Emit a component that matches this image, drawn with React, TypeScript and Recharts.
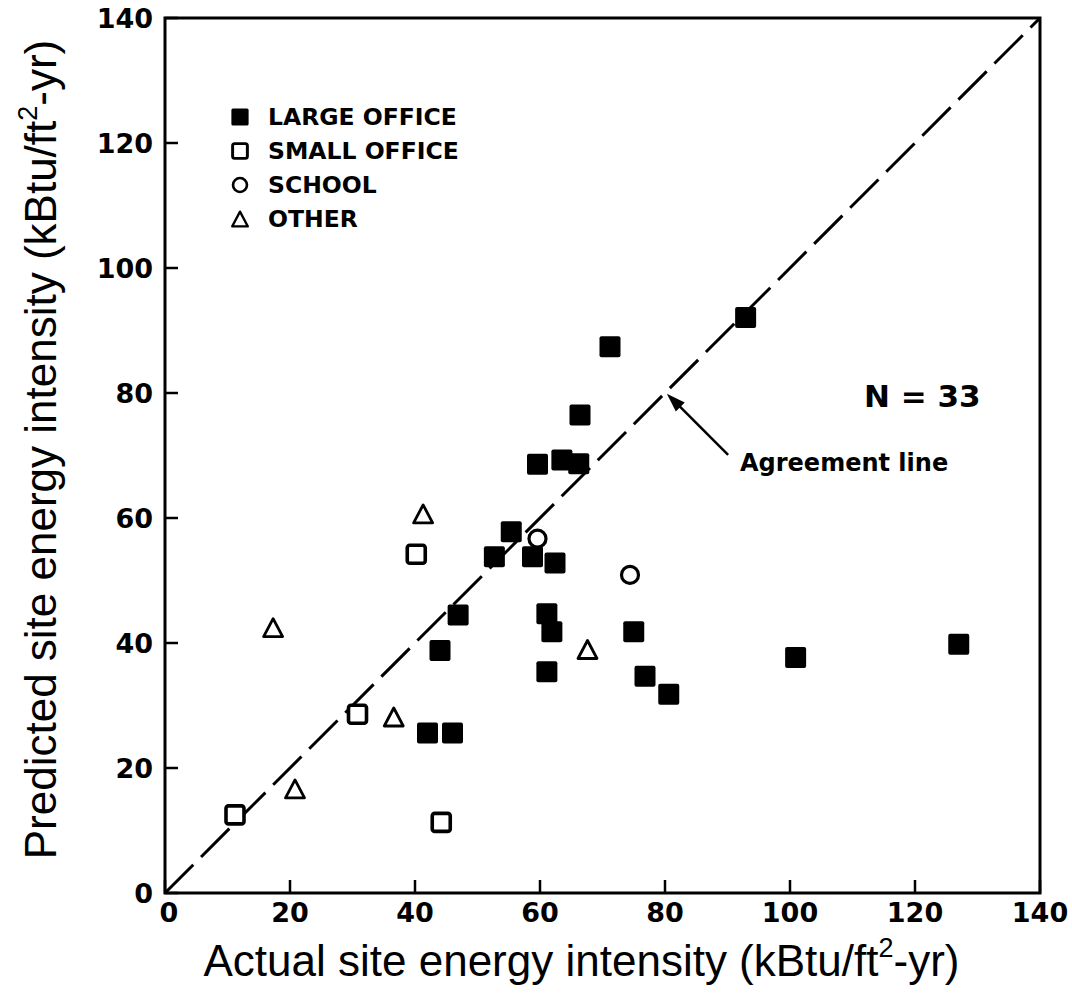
import React from 'react'
import {
  ScatterChart,
  Scatter,
  XAxis,
  YAxis,
  ReferenceLine,
  ReferenceArea,
  Legend,
  Label,
} from 'recharts'

// Actual vs predicted site energy intensity, kBtu/ft2-yr
const largeOffice = [
  { x: 92.9, y: 92.1 },
  { x: 71.2, y: 87.4 },
  { x: 66.4, y: 76.5 },
  { x: 59.6, y: 68.6 },
  { x: 63.5, y: 69.3 },
  { x: 66.2, y: 68.7 },
  { x: 55.4, y: 57.8 },
  { x: 52.7, y: 53.8 },
  { x: 58.8, y: 53.8 },
  { x: 62.4, y: 52.8 },
  { x: 46.9, y: 44.5 },
  { x: 44.0, y: 38.8 },
  { x: 42.0, y: 25.6 },
  { x: 46.0, y: 25.6 },
  { x: 61.1, y: 44.7 },
  { x: 61.9, y: 41.8 },
  { x: 61.1, y: 35.4 },
  { x: 75.0, y: 41.8 },
  { x: 76.8, y: 34.7 },
  { x: 80.6, y: 31.8 },
  { x: 100.9, y: 37.7 },
  { x: 127.0, y: 39.8 },
]

const smallOffice = [
  { x: 40.2, y: 54.2 },
  { x: 30.8, y: 28.6 },
  { x: 11.2, y: 12.5 },
  { x: 44.2, y: 11.3 },
]

const school = [
  { x: 59.6, y: 56.7 },
  { x: 74.4, y: 50.9 },
]

const other = [
  { x: 41.3, y: 60.5 },
  { x: 17.3, y: 42.3 },
  { x: 36.6, y: 28.0 },
  { x: 20.8, y: 16.5 },
  { x: 67.6, y: 38.8 },
]

const ticks = [0, 20, 40, 60, 80, 100, 120, 140]
const agreementLine = [
  { x: 0, y: 0 },
  { x: 140, y: 140 },
]
const arrowSegment = [
  { x: 90.1, y: 70.1 },
  { x: 80.3, y: 79.9 },
]
const legendItems = [
  { key: 'large', label: 'LARGE OFFICE' },
  { key: 'small', label: 'SMALL OFFICE' },
  { key: 'school', label: 'SCHOOL' },
  { key: 'other', label: 'OTHER' },
]

const BOLD_FONT = '"DejaVu Sans", sans-serif'
const TITLE_FONT = '"Liberation Sans", Arial, sans-serif'

const FilledSquare = ({ cx, cy }: any) => (
  <rect x={cx - 10.5} y={cy - 10.5} width={21} height={21} rx={2} fill="#000" />
)
const OpenSquare = ({ cx, cy }: any) => (
  <rect x={cx - 9} y={cy - 9} width={18} height={18} rx={2.5} fill="#fff" stroke="#000" strokeWidth={3.6} />
)
const OpenCircle = ({ cx, cy }: any) => (
  <circle cx={cx} cy={cy} r={8.5} fill="#fff" stroke="#000" strokeWidth={3.2} />
)
const OpenTriangle = ({ cx, cy }: any) => (
  <polygon
    points={`${cx},${cy - 10} ${cx + 9.5},${cy + 8} ${cx - 9.5},${cy + 8}`}
    fill="#fff"
    stroke="#000"
    strokeWidth={2.8}
    strokeLinejoin="round"
  />
)

const legendIcon = (key: string) => {
  const c = 11
  if (key === 'large') return <FilledSquare cx={c} cy={c} />
  if (key === 'small') return <OpenSquare cx={c} cy={c} />
  if (key === 'school') return <OpenCircle cx={c} cy={c} />
  return <OpenTriangle cx={c} cy={c + 1} />
}

const renderLegend = () => (
  <div style={{ display: 'flex', flexDirection: 'column' }}>
    {legendItems.map((item) => (
      <div key={item.key} style={{ display: 'flex', alignItems: 'center', height: 34 }}>
        <svg width={22} height={22} style={{ transform: 'scale(0.82)' }}>
          {legendIcon(item.key)}
        </svg>
        <span
          style={{
            marginLeft: 17,
            fontFamily: BOLD_FONT,
            fontWeight: 'bold',
            fontSize: 23.5,
            color: '#000',
          }}
        >
          {item.label}
        </span>
      </div>
    ))}
  </div>
)

// ticks point inward, like the original plot
const XTick = ({ x, y, payload }: any) => (
  <g>
    <line x1={x} y1={y} x2={x} y2={y - 13} stroke="#000" strokeWidth={2.5} />
    <text x={x + (payload.value === 0 ? 4 : 0)} y={y + 29} textAnchor="middle" fontFamily={BOLD_FONT} fontWeight="bold" fontSize={27} fill="#000">
      {payload.value}
    </text>
  </g>
)

const YTick = ({ x, y, payload }: any) => (
  <g>
    <line x1={x} y1={y} x2={x + 13} y2={y} stroke="#000" strokeWidth={2.5} />
    <text x={x - 12} y={y + 10} textAnchor="end" fontFamily={BOLD_FONT} fontWeight="bold" fontSize={27} fill="#000">
      {payload.value}
    </text>
  </g>
)

const XTitle = ({ viewBox }: any) => {
  const cx = viewBox.x + viewBox.width / 2 - 21
  const y = viewBox.y + 83
  return (
    <text x={cx} y={y} textAnchor="middle" fontFamily={TITLE_FONT} fontSize={44} fill="#000">
      Actual site energy intensity (kBtu/ft
      <tspan fontSize={27} dy={-19}>2</tspan>
      <tspan dy={19}>-yr)</tspan>
    </text>
  )
}

const YTitle = ({ viewBox }: any) => {
  const x = viewBox.x + 56
  const cy = viewBox.y + viewBox.height / 2 - 6
  return (
    <text
      x={x}
      y={cy}
      transform={`rotate(-90 ${x} ${cy})`}
      textAnchor="middle"
      fontFamily={TITLE_FONT}
      fontSize={44}
      fill="#000"
    >
      Predicted site energy intensity (kBtu/ft
      <tspan fontSize={27} dy={-19}>2</tspan>
      <tspan dy={19}>-yr)</tspan>
    </text>
  )
}

const ArrowShape = (props: any) => {
  const { x1, y1, x2, y2 } = props
  const ang = Math.atan2(y2 - y1, x2 - x1)
  const len = 20
  const half = 0.32
  const p1x = x2 - len * Math.cos(ang - half)
  const p1y = y2 - len * Math.sin(ang - half)
  const p2x = x2 - len * Math.cos(ang + half)
  const p2y = y2 - len * Math.sin(ang + half)
  return (
    <g>
      <line x1={x1} y1={y1} x2={x2 - 10 * Math.cos(ang)} y2={y2 - 10 * Math.sin(ang)} stroke="#000" strokeWidth={2.5} />
      <polygon points={`${x2},${y2} ${p1x},${p1y} ${p2x},${p2y}`} fill="#000" />
    </g>
  )
}

export default function App() {
  return (
    <div style={{ position: 'absolute', left: 0, top: 0, background: '#fff' }}>
      <ScatterChart width={1072} height={1004} margin={{ top: 18, right: 32, bottom: 0, left: 0 }}>
        <XAxis
          type="number"
          dataKey="x"
          domain={[0, 140]}
          ticks={ticks}
          height={111}
          axisLine={false}
          tickLine={false}
          tickSize={0}
          tickMargin={0}
          tick={<XTick />}
          interval={0}
        >
          <Label content={<XTitle />} />
        </XAxis>
        <YAxis
          type="number"
          dataKey="y"
          domain={[0, 140]}
          ticks={ticks}
          width={165}
          axisLine={false}
          tickLine={false}
          tickSize={0}
          tickMargin={0}
          tick={<YTick />}
          interval={0}
        >
          <Label content={<YTitle />} />
        </YAxis>
        <ReferenceArea x1={0} x2={140} y1={0} y2={140} fill="none" stroke="#000" strokeWidth={3} />
        <ReferenceLine segment={agreementLine} stroke="#000" strokeWidth={3} strokeDasharray="40 11" />
        <ReferenceLine segment={arrowSegment} shape={<ArrowShape />} />
        <Legend
          layout="vertical"
          align="center"
          verticalAlign="middle"
          content={renderLegend}
          wrapperStyle={{ left: 229, top: 100, width: 280 }}
        />
        <Scatter name="LARGE OFFICE" data={largeOffice} shape={<FilledSquare />} isAnimationActive={false} />
        <Scatter name="SMALL OFFICE" data={smallOffice} shape={<OpenSquare />} isAnimationActive={false} />
        <Scatter name="SCHOOL" data={school} shape={<OpenCircle />} isAnimationActive={false} />
        <Scatter name="OTHER" data={other} shape={<OpenTriangle />} isAnimationActive={false} />
        <text x={864} y={407} fontFamily={BOLD_FONT} fontWeight="bold" fontSize={31} fill="#000">
          N = 33
        </text>
        <text x={740} y={471} fontFamily={BOLD_FONT} fontWeight="bold" fontSize={24} fill="#000">
          Agreement line
        </text>
      </ScatterChart>
    </div>
  )
}
